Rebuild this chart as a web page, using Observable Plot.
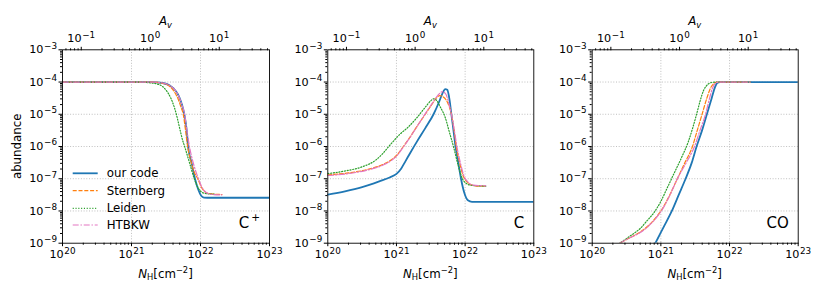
<!DOCTYPE html>
<html><head><meta charset="utf-8">
<script src="https://cdn.jsdelivr.net/npm/d3@7"></script>
<script src="https://cdn.jsdelivr.net/npm/@observablehq/plot@0.6"></script>
<style>
body{margin:0;background:#fff;}
#fig{position:relative;width:822px;height:298px;font-family:"DejaVu Sans",sans-serif;background:#fff;}
#fig svg{position:absolute;left:0;top:0;overflow:visible;}
</style></head><body><div id="fig"></div>
<script>
// ---------- data (log10 N_H, log10 abundance) ----------
const seriesNames = ["our code", "Sternberg", "Leiden", "HTBKW"];
const panelNames = ["C+", "C", "CO"];
const xMajor = [1e20, 1e21, 1e22, 1e23];
const yMajor = [1e-9, 1e-8, 1e-7, 1e-6, 1e-5, 1e-4, 1e-3];
const avMajor = [0.1, 1, 10];
const avMinor = [0.06,0.07,0.08,0.09,0.2,0.3,0.4,0.5,0.6,0.7,0.8,0.9,2,3,4,5,6,7,8,9,20,30,40,50];
const AV_PER_NH = 1.87e21;

// C+
const cpOurN = [20, 21.3, 21.45, 21.55, 21.61, 21.67, 21.71, 21.75, 21.77, 21.8, 21.82, 21.87, 21.92, 21.97, 22.01, 22.05, 22.1, 23];
const cpOurX = [-4, -4, -4.03, -4.1, -4.2, -4.37, -4.57, -4.85, -5.05, -5.5, -6.0, -6.5, -7.0, -7.35, -7.53, -7.585, -7.59, -7.59];
const cpStN = [20, 21.3, 21.45, 21.55, 21.62, 21.68, 21.72, 21.75, 21.78, 21.81, 21.86, 21.91, 21.96, 22.01, 22.06, 22.12, 22.31];
const cpStX = [-4, -4, -4.04, -4.13, -4.3, -4.55, -4.8, -5.0, -5.45, -5.95, -6.45, -6.8, -7.0, -7.25, -7.4, -7.46, -7.49];
const cpLeN = [20, 21.1, 21.25, 21.4, 21.5, 21.57, 21.62, 21.65, 21.7, 21.74, 21.77, 21.84, 21.91, 21.97, 22.04, 22.12, 22.2];
const cpLeX = [-4, -4, -4.02, -4.08, -4.25, -4.5, -4.78, -5.0, -5.45, -5.8, -6.0, -6.5, -7.0, -7.3, -7.44, -7.47, -7.48];
const cpHtN = [20, 21.3, 21.45, 21.55, 21.62, 21.68, 21.73, 21.77, 21.8, 21.84, 21.9, 21.97, 22.03, 22.1, 22.18, 22.31];
const cpHtX = [-4, -4, -4.03, -4.1, -4.22, -4.42, -4.7, -5.0, -5.45, -6.0, -6.55, -7.0, -7.3, -7.45, -7.49, -7.5];

// C
const cOurN = [20, 20.25, 20.5, 20.75, 20.9, 21.0, 21.07, 21.13, 21.2, 21.3, 21.42, 21.54, 21.62, 21.67, 21.71, 21.74, 21.765, 21.8, 21.83, 21.86, 21.9, 21.94, 21.99, 22.04, 22.1, 23];
const cOurX = [-7.49, -7.39, -7.26, -7.08, -6.96, -6.85, -6.68, -6.46, -6.2, -5.84, -5.43, -5.0, -4.62, -4.35, -4.22, -4.24, -4.45, -5.0, -5.5, -6.0, -6.5, -7.0, -7.45, -7.67, -7.72, -7.72];
const cStN = [20, 20.3, 20.6, 20.8, 20.9, 21.0, 21.1, 21.2, 21.3, 21.42, 21.52, 21.58, 21.63, 21.68, 21.74, 21.8, 21.84, 21.87, 21.92, 21.97, 22.03, 22.1, 22.2, 22.3];
const cStX = [-6.88, -6.82, -6.7, -6.56, -6.45, -6.28, -6.0, -5.7, -5.37, -5.0, -4.68, -4.5, -4.42, -4.46, -4.62, -5.0, -5.5, -6.0, -6.5, -6.9, -7.1, -7.2, -7.23, -7.23];
const cLeN = [20, 20.25, 20.5, 20.7, 20.8, 20.88, 20.97, 21.06, 21.16, 21.3, 21.42, 21.5, 21.54, 21.58, 21.64, 21.71, 21.77, 21.83, 21.9, 21.96, 22.02, 22.08, 22.2, 22.3];
const cLeX = [-6.84, -6.76, -6.63, -6.42, -6.22, -6.02, -5.8, -5.6, -5.42, -5.1, -4.78, -4.58, -4.52, -4.56, -4.78, -5.1, -5.55, -6.0, -6.6, -7.0, -7.15, -7.2, -7.22, -7.23];
const cHtN = [20, 20.3, 20.6, 20.8, 20.9, 21.0, 21.1, 21.2, 21.3, 21.42, 21.52, 21.6, 21.67, 21.72, 21.76, 21.8, 21.85, 21.88, 21.93, 21.98, 22.05, 22.12, 22.3];
const cHtX = [-6.9, -6.84, -6.72, -6.58, -6.47, -6.3, -6.02, -5.71, -5.38, -4.98, -4.66, -4.42, -4.3, -4.38, -4.65, -5.0, -5.6, -6.0, -6.5, -6.9, -7.12, -7.2, -7.22];

// CO
const coOurN = [20.85, 20.92, 21.04, 21.16, 21.26, 21.36, 21.45, 21.52, 21.6, 21.67, 21.74, 21.79, 21.82, 21.86, 23];
const coOurX = [-9.3, -9.0, -8.5, -8.0, -7.5, -7.0, -6.5, -6.0, -5.5, -5.0, -4.5, -4.15, -4.03, -4.0, -4.0];
const coStN = [20.0, 20.2, 20.4, 20.55, 20.7, 20.82, 20.93, 21.03, 21.13, 21.24, 21.35, 21.46, 21.53, 21.6, 21.67, 21.72, 21.77, 21.82, 22.3];
const coStX = [-9.6, -9.3, -9.0, -8.83, -8.65, -8.45, -8.2, -7.9, -7.5, -7.0, -6.5, -6.0, -5.5, -5.0, -4.5, -4.2, -4.05, -4.0, -4.0];
const coLeN = [20.0, 20.2, 20.4, 20.55, 20.7, 20.8, 20.9, 21.0, 21.1, 21.2, 21.3, 21.4, 21.46, 21.52, 21.57, 21.62, 21.68, 21.75, 21.82, 22.3];
const coLeX = [-9.5, -9.25, -9.0, -8.78, -8.54, -8.3, -8.05, -7.7, -7.25, -6.8, -6.35, -5.85, -5.45, -5.0, -4.6, -4.27, -4.08, -4.01, -4.0, -4.0];
const coHtN = [20.0, 20.2, 20.4, 20.55, 20.7, 20.82, 20.93, 21.03, 21.13, 21.24, 21.37, 21.49, 21.57, 21.65, 21.71, 21.75, 21.79, 21.84, 22.3];
const coHtX = [-9.6, -9.3, -9.0, -8.83, -8.67, -8.47, -8.22, -7.92, -7.52, -7.0, -6.5, -6.0, -5.5, -5.0, -4.5, -4.2, -4.05, -4.0, -4.0];

// ---------- styles ----------
const colors = ["#1f77b4", "#ff7f0e", "#2ca02c", "#e377c2"];
const dashes = [null, "4,1.8", "1.1,1.7", "6,1.8,1.4,1.8"];
const widths = [1.8, 1.2, 1.2, 1.2];

const panels = [
  {name: panelNames[0], series: [[cpOurN, cpOurX], [cpStN, cpStX], [cpLeN, cpLeX], [cpHtN, cpHtX]], left: 62, right: 269},
  {name: panelNames[1], series: [[cOurN, cOurX], [cStN, cStX], [cLeN, cLeX], [cHtN, cHtX]], left: 327.3, right: 533.3},
  {name: panelNames[2], series: [[coOurN, coOurX], [coStN, coStX], [coLeN, coLeX], [coHtN, coHtX]], left: 591.7, right: 797.7}
];
const W = 822, H = 298, TOP = 49.3, BOTTOM = 242.7;

const xMinor = [];
for (let e = 20; e < 23; e++) for (let m = 2; m <= 9; m++) xMinor.push(m * 10 ** e);
const yMinor = [];
for (let e = -9; e < -3; e++) for (let m = 2; m <= 9; m++) yMinor.push(m * 10 ** e);
const expFmt = d => "10^" + Math.round(Math.log10(d));
const blank = () => "";
const gridStyle = {stroke: "#b0b0b0", strokeWidth: 0.8, strokeDasharray: "1,1.7"};

const fig = document.getElementById("fig");
const ns = "http://www.w3.org/2000/svg";

panels.forEach(p => {
  const lineMarks = p.series.map(([ln, lx], i) => {
    const data = ln.map((v, j) => ({N: 10 ** v, X: 10 ** lx[j]}));
    return Plot.line(data, {x: "N", y: "X", stroke: colors[i], strokeWidth: widths[i],
      strokeDasharray: dashes[i] || undefined, curve: "monotone-x", clip: true});
  });
  const svg = Plot.plot({
    width: W, height: H,
    marginLeft: p.left, marginRight: W - p.right, marginTop: TOP, marginBottom: H - BOTTOM,
    style: {background: "transparent", fontFamily: "DejaVu Sans", fontSize: "11.2px", overflow: "visible", color: "black"},
    x: {type: "log", domain: [1e20, 1e23], label: null},
    y: {type: "log", domain: [1e-9, 1e-3], label: null},
    marks: [
      Plot.ruleY(yMajor.slice(1, -1), gridStyle),
      Plot.ruleX(xMajor.slice(1, -1), gridStyle),
      ...lineMarks,
      Plot.axisX({anchor: "bottom", ticks: xMajor, tickFormat: expFmt, tickSize: 3.5, tickPadding: 3.5, label: null}),
      Plot.axisX({anchor: "bottom", ticks: xMinor, tickFormat: blank, tickSize: 2, label: null}),
      Plot.axisX({anchor: "top", ticks: avMajor.map(a => a * AV_PER_NH), tickFormat: d => expFmt(d / AV_PER_NH), tickSize: 3.5, tickPadding: 4, label: null}),
      Plot.axisX({anchor: "top", ticks: avMinor.map(a => a * AV_PER_NH), tickFormat: blank, tickSize: 2, label: null}),
      Plot.axisY({anchor: "left", ticks: yMajor, tickFormat: expFmt, tickSize: 3.5, tickPadding: 2, label: null}),
      Plot.axisY({anchor: "left", ticks: yMinor, tickFormat: blank, tickSize: 2, label: null}),
      Plot.frame({stroke: "black", strokeWidth: 0.9})
    ]
  });
  // turn "10^n" into 10 with a real superscript
  svg.querySelectorAll("text").forEach(t => {
    const m = t.textContent.match(/^10\^(-?\d+)$/);
    if (m) {
      t.textContent = "10";
      const ts = document.createElementNS(ns, "tspan");
      ts.setAttribute("font-size", "8.8px");
      ts.setAttribute("dy", "-4.6px");
      ts.setAttribute("dx", "0.6px");
      ts.textContent = m[1].replace("-", "\u2212");
      t.appendChild(ts);
    }
  });
  fig.appendChild(svg);
});

// ---------- overlay: axis titles, panel labels, legend ----------
const ov = d3.select(fig).append("svg").attr("width", W).attr("height", H)
  .style("font-family", "DejaVu Sans").style("font-size", "11.8px");

ov.append("text").attr("transform", "translate(21,146.3) rotate(-90)")
  .attr("text-anchor", "middle").text("abundance");

panels.forEach((p, k) => {
  const cx = (p.left + p.right) / 2;
  const nh = ov.append("text").attr("x", cx).attr("y", 277.5).attr("text-anchor", "middle");
  nh.append("tspan").attr("font-style", "italic").text("N");
  nh.append("tspan").attr("font-size", "8.3px").attr("dy", 2.6).text("H");
  nh.append("tspan").attr("dy", -2.6).text("[cm");
  nh.append("tspan").attr("font-size", "8.3px").attr("dy", -4.8).text("\u22122");
  nh.append("tspan").attr("dy", 4.8).text("]");

  const av = ov.append("text").attr("x", cx).attr("y", 25).attr("text-anchor", "middle");
  av.append("tspan").attr("font-style", "italic").text("A");
  av.append("tspan").attr("font-style", "italic").attr("font-size", "8.3px").attr("dy", 2.6).text("v");

  const lab = ov.append("text").attr("x", p.right - 9).attr("y", 227.5).attr("text-anchor", "end").style("font-size", "15px");
  if (p.name === "C+") {
    lab.append("tspan").text("C");
    lab.append("tspan").attr("dx", 2).attr("dy", -6.5).style("font-size", "10.5px").text("+");
  } else {
    lab.text(p.name);
  }
});

const legY = [173.3, 190.7, 208.3, 225];
seriesNames.forEach((name, i) => {
  ov.append("line").attr("x1", 72.7).attr("x2", 97.7).attr("y1", legY[i]).attr("y2", legY[i])
    .attr("stroke", colors[i]).attr("stroke-width", widths[i])
    .attr("stroke-dasharray", dashes[i] || null);
  ov.append("text").attr("x", 106.7).attr("y", legY[i]).attr("dy", "0.35em").text(name);
});
</script></body></html>
